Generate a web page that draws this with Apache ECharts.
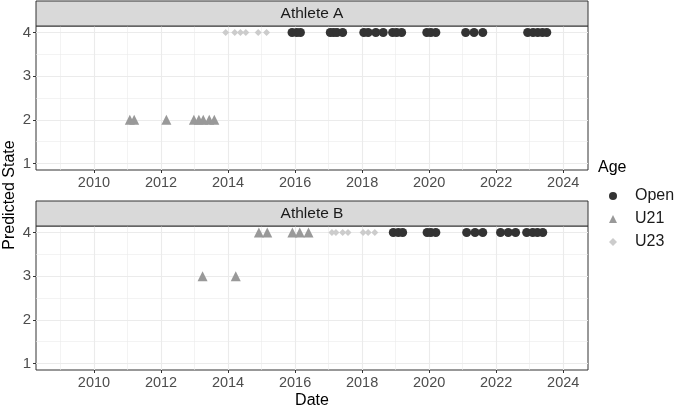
<!DOCTYPE html>
<html>
<head>
<meta charset="utf-8">
<script src="https://cdn.jsdelivr.net/npm/echarts@6/dist/echarts.min.js"></script>
<style>
  html, body { margin: 0; padding: 0; background: #fff; }
  #chart { width: 675px; height: 408px; }
</style>
</head>
<body>
<div id="chart"></div>
<script>
// panel names and age groups
const panels = ['Athlete A', 'Athlete B'];
const ageGroups = ['Open', 'U21', 'U23'];

// tick labels
const majorYears = [2010, 2012, 2014, 2016, 2018, 2020, 2022, 2024];
const minorYears = [2009, 2011, 2013, 2015, 2017, 2019, 2021, 2023];
const majorStates = [1, 2, 3, 4];
const minorStates = [1.5, 2.5, 3.5];

// Athlete A
const aOpenDates = [2015.91, 2016.05, 2016.16, 2017.05, 2017.15, 2017.25, 2017.42,
  2018.05, 2018.18, 2018.41, 2018.63, 2018.91, 2019.03, 2019.18,
  2019.93, 2020.05, 2020.2, 2021.09, 2021.34, 2021.6,
  2022.94, 2023.1, 2023.24, 2023.38, 2023.51];
const aOpenStates = aOpenDates.map(() => 4);
const aU21Dates = [2011.07, 2011.2, 2012.16, 2012.98, 2013.13, 2013.26, 2013.44, 2013.59];
const aU21States = [2, 2, 2, 2, 2, 2, 2, 2];
const aU23Dates = [2013.93, 2014.2, 2014.37, 2014.53, 2014.9, 2015.15];
const aU23States = [4, 4, 4, 4, 4, 4];

// Athlete B
const bOpenDates = [2018.93, 2019.08, 2019.21, 2019.94, 2020.05, 2020.2,
  2021.12, 2021.37, 2021.6, 2022.13, 2022.36, 2022.58,
  2022.91, 2023.09, 2023.23, 2023.39];
const bOpenStates = bOpenDates.map(() => 4);
const bU21Dates = [2013.24, 2014.23, 2014.92, 2015.17, 2015.92, 2016.14, 2016.4];
const bU21States = [3, 3, 4, 4, 4, 4, 4];
const bU23Dates = [2017.1, 2017.22, 2017.42, 2017.58, 2018.03, 2018.18, 2018.38];
const bU23States = [4, 4, 4, 4, 4, 4, 4];

const pairs = (xs, ys) => xs.map((x, i) => [x, ys[i]]);

const styles = {
  Open: { symbol: 'circle', size: 9, color: '#333333' },
  U21: { symbol: 'triangle', size: 10, color: '#999999' },
  U23: { symbol: 'diamond', size: 7, color: '#cccccc' }
};

const chart = echarts.init(document.getElementById('chart'));

const gridTops = [26, 226];
const gridH = 144;
const gridLeft = 36, gridW = 552;
const xMin = 2008.27, xMax = 2024.74;
const yMin = 0.85, yMax = 4.15;
const lineDark = '#333333';
const gridCol = '#ebebeb';
const tickText = '#4d4d4d';
const font = 'Liberation Sans, Arial, sans-serif';

const grids = [], xAxes = [], yAxes = [];
panels.forEach((p, i) => {
  grids.push({
    left: gridLeft, top: gridTops[i], width: gridW, height: gridH,
    show: true, borderColor: lineDark, borderWidth: 1, backgroundColor: 'transparent'
  });
  // minor axes (grid lines only)
  xAxes.push({
    type: 'value', gridIndex: i, min: xMin, max: xMax, position: 'bottom',
    axisLine: { show: false }, axisLabel: { show: false },
    axisTick: { show: false, customValues: minorYears },
    splitLine: { show: true, lineStyle: { color: gridCol, width: 0.6 } }
  });
  yAxes.push({
    type: 'value', gridIndex: i, min: yMin, max: yMax, position: 'left',
    axisLine: { show: false }, axisLabel: { show: false },
    axisTick: { show: false, customValues: minorStates },
    splitLine: { show: true, lineStyle: { color: gridCol, width: 0.6 } }
  });
  // major axes
  xAxes.push({
    type: 'value', gridIndex: i, min: xMin, max: xMax, position: 'bottom',
    axisLine: { show: false },
    axisTick: { show: true, customValues: majorYears, length: 3, lineStyle: { color: lineDark } },
    axisLabel: { customValues: majorYears, margin: 5, color: tickText, fontSize: 14.5, fontFamily: font,
      formatter: v => String(v) },
    splitLine: { show: true, lineStyle: { color: gridCol, width: 1.1 } }
  });
  yAxes.push({
    type: 'value', gridIndex: i, min: yMin, max: yMax, position: 'left',
    axisLine: { show: false },
    axisTick: { show: true, customValues: majorStates, length: 3, lineStyle: { color: lineDark } },
    axisLabel: { customValues: majorStates, margin: 5, color: tickText, fontSize: 15, fontFamily: font,
      formatter: v => String(v) },
    splitLine: { show: true, lineStyle: { color: gridCol, width: 1.1 } }
  });
});

const panelData = [
  { Open: pairs(aOpenDates, aOpenStates), U21: pairs(aU21Dates, aU21States), U23: pairs(aU23Dates, aU23States) },
  { Open: pairs(bOpenDates, bOpenStates), U21: pairs(bU21Dates, bU21States), U23: pairs(bU23Dates, bU23States) }
];

const series = [];
panelData.forEach((d, i) => {
  ['U23', 'U21', 'Open'].forEach(age => {
    const s = styles[age];
    series.push({
      type: 'scatter', name: age,
      xAxisIndex: i * 2 + 1, yAxisIndex: i * 2 + 1,
      symbol: s.symbol, symbolSize: s.size,
      itemStyle: { color: s.color, opacity: 1 },
      data: d[age], z: 5
    });
  });
});

const strips = [];
panels.forEach((p, i) => {
  const h = 25;
  strips.push({
    type: 'rect', shape: { x: gridLeft, y: gridTops[i] - h, width: gridW, height: h },
    style: { fill: '#d9d9d9', stroke: lineDark, lineWidth: 1 }, z: 10
  });
  strips.push({
    type: 'text', x: gridLeft + gridW / 2, y: gridTops[i] - h / 2,
    style: { text: p, fill: '#1a1a1a', fontSize: 15.5, fontFamily: font, align: 'center', verticalAlign: 'middle' }, z: 11
  });
});

chart.setOption({
  animation: false,
  backgroundColor: '#ffffff',
  grid: grids,
  xAxis: xAxes,
  yAxis: yAxes,
  series: series,
  legend: {
    orient: 'vertical', left: 609, top: 188, padding: 0,
    itemWidth: 8, itemHeight: 8, itemGap: 7, symbolKeepAspect: true,
    textStyle: { color: '#1a1a1a', fontSize: 16, fontFamily: font, lineHeight: 16, padding: [0, 0, 0, 13] },
    data: ageGroups.map(a => ({ name: a, icon: styles[a].symbol, itemStyle: { color: styles[a].color } }))
  },
  graphic: strips.concat([
    { type: 'text', x: 312, y: 401,
      style: { text: 'Date', fill: '#000', fontSize: 16, fontFamily: font, align: 'center', verticalAlign: 'middle' } },
    { type: 'text', x: 10, y: 195, rotation: Math.PI / 2,
      style: { text: 'Predicted State', fill: '#000', fontSize: 16, fontFamily: font, align: 'center', verticalAlign: 'middle' } },
    { type: 'text', x: 598, y: 168,
      style: { text: 'Age', fill: '#000', fontSize: 16, fontFamily: font, align: 'left', verticalAlign: 'middle' } }
  ])
});
</script>
</body>
</html>
